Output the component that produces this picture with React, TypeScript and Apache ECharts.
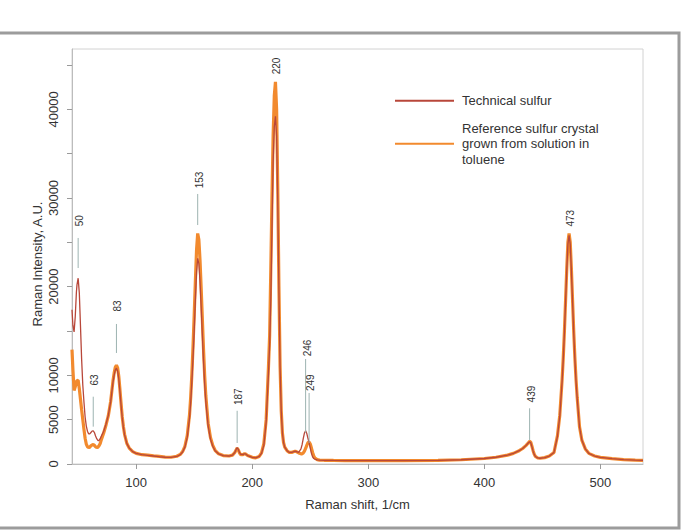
import React, { useEffect, useRef } from "react";
import * as echarts from "echarts";

// Raman shift (1/cm) sampling shared by both spectra
const shift = [
  44.7, 45.5, 46.5, 47.5, 48.5, 49, 50, 51, 52, 53, 54, 55, 56, 57, 58, 59, 60, 61, 62, 63, 64, 65, 66, 67, 68, 69, 70,
  72, 74, 76, 78, 80, 81, 82, 83, 84, 85, 86, 87, 88, 89, 90, 92, 94, 97, 100, 105, 110, 115, 120, 125, 130, 135, 138,
  140, 142, 144, 146, 147, 148, 149, 150, 151, 152, 153, 154, 155, 156, 157, 158, 159, 160, 162, 164, 166, 168, 171,
  175, 180, 183, 185, 186, 187, 188, 189, 190, 192, 193, 194, 196, 200, 203, 206, 208, 210, 212, 214, 215, 216, 217,
  218, 219, 220, 221, 222, 223, 224, 225, 226, 227, 228, 230, 232, 234, 236, 237, 238, 240, 242, 243, 244, 245, 246,
  247, 248, 249, 250, 251, 252, 253, 254, 256, 258, 262, 270, 280, 300, 330, 360, 380, 400, 410, 420, 425, 430, 433,
  436, 438, 439, 440, 441, 442, 443, 444, 446, 448, 452, 456, 460, 463, 465, 467, 468, 469, 470, 471, 472, 473, 474,
  475, 476, 477, 478, 479, 480, 482, 484, 487, 490, 495, 500, 510, 520, 530, 536.7,
];

// Technical sulfur intensity, A.U.
const technical = [
  17400, 15600, 14900, 16600, 19400, 20200, 20950, 19300, 15600, 11800, 8900, 7000, 5300, 4300, 3700, 3400, 3400, 3550,
  3700, 3750, 3550, 3150, 2850, 2650, 2650, 2850, 3150,
  3700, 4500, 5500, 7000, 9200, 10000, 10600, 10800, 10500, 9600, 8200, 6600, 5200, 4100, 3300, 2300, 1800, 1400, 1200,
  1050, 980, 900, 820, 760, 740, 850, 1050,
  1350, 1900, 3000, 5200, 7000, 9300, 12000, 15000, 18500, 21600, 23200, 22600, 20600, 17700, 14600, 11600, 9000, 7000,
  4300, 2800, 2000, 1500, 1150,
  950, 900, 1000, 1300, 1600, 1850, 1650, 1300, 1100, 1050, 1150, 1150, 950, 750, 700, 850, 1200, 2100, 4700, 10200,
  13400, 18500, 26500,
  34000, 38000, 39200, 37000, 29500, 19500, 10800, 6000, 3500, 2400, 1900, 1500, 1300, 1300, 1400, 1450, 1400, 1300,
  1700, 2200, 2900, 3500, 3750,
  3450, 2900, 2400, 1800, 1200, 800, 620, 540, 470, 430, 420, 400, 380, 370, 380, 420, 480, 620, 760, 1000, 1200, 1500,
  1750,
  2100, 2400, 2500, 2400, 1950, 1450, 1080, 850, 680, 650, 720, 900, 1300, 3100, 5400, 9300, 11800, 14800, 18300,
  21800, 24800, 25800, 24800,
  21800, 18300, 14800, 11800, 9300, 7400, 4200, 2700, 1700, 1200, 900, 750, 600, 500, 430, 400,
];

// Reference crystal (grown from toluene solution) intensity, A.U.
const reference = [
  12900, 10600, 8300, 8700, 9250, 9400, 9450, 8500, 7300, 6100, 5000, 3900, 2900, 2250, 1950, 1850, 1900, 2050, 2150,
  2200, 2100, 1950, 1850, 1900, 2050, 2300, 2750,
  3500, 4400, 5450, 7050, 9350, 10250, 10900, 11150, 10850, 9900, 8400, 6800, 5300, 4200, 3350, 2300, 1800, 1400, 1200,
  1050, 1000, 920, 850, 780, 760, 870, 1080,
  1400, 2000, 3200, 5600, 7600, 10200, 13300, 16800, 20600, 24100, 26000, 25300, 23000, 19800, 16400, 13000, 10000,
  7700, 4600, 3000, 2100, 1550, 1150,
  950, 900, 1000, 1300, 1550, 1800, 1600, 1250, 1050, 1050, 1150, 1150, 950, 750, 700, 850, 1250, 2300, 5000, 11000,
  14500, 22000, 30000,
  37000, 41500, 43100, 40000, 31000, 20000, 11000, 6000, 3500, 2400, 1900, 1500, 1300, 1300, 1400, 1450, 1400, 1250,
  1150, 1150, 1250, 1450, 1750,
  2100, 2400, 2480, 2250, 1800, 1300, 900, 680, 500, 440, 420, 400, 380, 370, 380, 420, 480, 620, 760, 1000, 1200, 1500,
  1750,
  2100, 2400, 2550, 2450, 2000, 1500, 1100, 850, 680, 650, 720, 900, 1300, 3200, 5500, 9500, 12000, 15000, 18500,
  22000, 25000, 26000, 25000,
  22000, 18500, 15000, 12000, 9500, 7500, 4200, 2700, 1700, 1200, 900, 750, 600, 500, 430, 400,
];

// Assigned band positions with their leader lines and label heights (A.U.)
const peakShift = [50, 63, 83, 153, 187, 220, 246, 249, 439, 473];
const leaderFrom = [22100, 4210, 12520, 26950, 2370, null, 3500, 2370, 2710, null];
const leaderTo = [25490, 7590, 15790, 30450, 6000, null, 11840, 8010, 6280, null];
const labelAt = [27440, 9470, 17820, 32030, 7590, 44880, 13080, 9170, 7890, 27710];

const xTicks = [100, 200, 300, 400, 500];
const yTicks = [0, 5000, 10000, 15000, 20000, 25000, 30000, 35000, 40000, 45000];
const yTickLabels = [0, 5000, 10000, 20000, 30000, 40000];

const technicalName = "Technical sulfur";
const referenceName = "Reference sulfur crystal\ngrown from solution in\ntoluene";

const FONT = "'Liberation Sans', Arial, Helvetica, sans-serif";
const TEXT = "#333333";

export default function App() {
  const ref = useRef<HTMLDivElement>(null);

  useEffect(() => {
    if (!ref.current) return;
    const chart = echarts.init(ref.current, undefined, { renderer: "svg" });

    const option = {
      animation: false,
      textStyle: { fontFamily: FONT },
      grid: {
        left: 72,
        right: 40,
        top: 49,
        bottom: 67,
        show: true,
        borderColor: "#d2d2d2",
        borderWidth: 1,
        backgroundColor: "transparent",
      },
      legend: {
        data: [technicalName, referenceName],
        orient: "vertical",
        left: 395,
        top: 93,
        padding: 0,
        itemGap: 12,
        itemWidth: 59,
        itemHeight: 2,
        icon: "rect",
        selectedMode: false,
        textStyle: { fontSize: 13, lineHeight: 15.5, color: TEXT, fontFamily: FONT, padding: [0, 0, 0, 3] },
      },
      xAxis: {
        type: "value",
        min: 44.7,
        max: 536.7,
        name: "Raman shift, 1/cm",
        nameLocation: "middle",
        nameGap: 34,
        nameTextStyle: { fontSize: 13, color: TEXT, fontFamily: FONT },
        axisLine: { show: true, lineStyle: { color: "#bcbcbc", width: 1 } },
        axisTick: { show: true, length: 5, customValues: xTicks, lineStyle: { color: "#9a9a9a" } },
        axisLabel: {
          customValues: xTicks,
          fontSize: 13,
          color: TEXT,
          margin: 12,
          fontFamily: FONT,
          formatter: (v: number) => String(v),
        },
        splitLine: { show: false },
      },
      yAxis: {
        type: "value",
        min: 0,
        max: 46800,
        axisLine: { show: true, lineStyle: { color: "#bcbcbc", width: 1 } },
        axisTick: { show: true, length: 5, customValues: yTicks, lineStyle: { color: "#9a9a9a" } },
        axisLabel: {
          customValues: yTickLabels,
          rotate: 90,
          fontSize: 13,
          color: TEXT,
          margin: 12,
          fontFamily: FONT,
          formatter: (v: number) => String(v),
        },
        splitLine: { show: false },
      },
      graphic: [
        {
          type: "rect",
          silent: true,
          shape: { x: -2, y: 33, width: 681, height: 495 },
          style: { fill: "none", stroke: "#9c9c9c", lineWidth: 3 },
        },
        {
          type: "text",
          silent: true,
          x: 37.5,
          y: 264,
          rotation: Math.PI / 2,
          style: {
            text: "Raman Intensity, A.U.",
            fontSize: 13,
            fontFamily: FONT,
            fill: TEXT,
            align: "center",
            verticalAlign: "middle",
          },
        },
      ],
      series: [
        {
          name: referenceName,
          type: "line",
          data: shift.map((x, i) => [x, reference[i]]),
          showSymbol: false,
          symbol: "none",
          silent: true,
          color: "#f28a2e",
          lineStyle: { color: "#f28a2e", width: 3.2 },
          z: 2,
        },
        {
          name: technicalName,
          type: "line",
          data: shift.map((x, i) => [x, technical[i]]),
          showSymbol: false,
          symbol: "none",
          silent: true,
          color: "#b8473a",
          lineStyle: { color: "#b8473a", width: 1.3 },
          z: 3,
        },
        {
          name: "bands",
          type: "custom",
          silent: true,
          clip: false,
          z: 4,
          data: peakShift.map((x, i) => [x, labelAt[i]]),
          renderItem: (params: any, api: any) => {
            const i = params.dataIndex;
            const x = peakShift[i];
            const children: any[] = [];
            const lo = leaderFrom[i];
            const hi = leaderTo[i];
            if (lo !== null && hi !== null) {
              const a = api.coord([x, lo]);
              const b = api.coord([x, hi]);
              children.push({
                type: "line",
                shape: { x1: a[0], y1: a[1], x2: b[0], y2: b[1] },
                style: { stroke: "#9db3b1", lineWidth: 1 },
              });
            }
            const p = api.coord([x, labelAt[i]]);
            children.push({
              type: "text",
              x: p[0] + 1.5,
              y: p[1],
              rotation: Math.PI / 2,
              style: {
                text: String(x),
                fontSize: 10,
                fontFamily: FONT,
                fill: TEXT,
                align: "center",
                verticalAlign: "middle",
              },
            });
            return { type: "group", children };
          },
        },
      ],
    };

    chart.setOption(option as any);
    return () => chart.dispose();
  }, []);

  return (
    <div
      ref={ref}
      style={{ position: "absolute", left: 0, top: 0, width: 683, height: 531, background: "#ffffff" }}
    />
  );
}
